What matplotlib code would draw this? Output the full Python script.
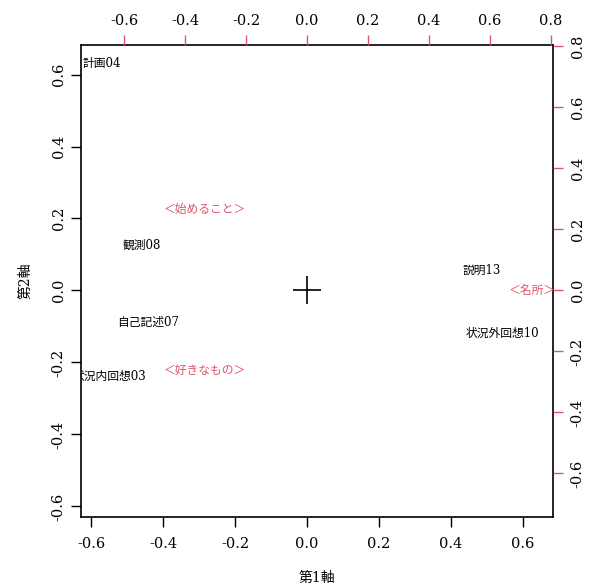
import matplotlib.pyplot as plt

plt.rcParams["font.family"] = ["DejaVu Serif", "Noto Sans CJK JP"]

# row scores (first set, black labels, bottom/left axes)
row_labels = ["計画04", "観測08", "自己記述07", "状況内回想03", "説明13", "状況外回想10"]
row_x = [-0.570, -0.458, -0.442, -0.550, 0.486, 0.542]
row_y = [0.631, 0.125, -0.088, -0.240, 0.057, -0.118]

# column scores (second set, red labels, top/right axes)
col_labels = ["＜始めること＞", "＜好きなもの＞", "＜名所＞"]
col_x = [-0.334, -0.334, 0.738]
col_y = [0.266, -0.262, 0.0]

ticks_main = [-0.6, -0.4, -0.2, 0.0, 0.2, 0.4, 0.6]
ticks_second = [-0.6, -0.4, -0.2, 0.0, 0.2, 0.4, 0.6, 0.8]

LIM = (-0.628, 0.682)
RATIO = 1.18
RED = "#DF536B"

fig = plt.figure(figsize=(5.92, 5.86), dpi=100)
pos = [0.1368, 0.1186, 0.7965, 0.8046]
ax = fig.add_axes(pos)
ax.set_xlim(*LIM)
ax.set_ylim(*LIM)
ax.set_xticks(ticks_main)
ax.set_yticks(ticks_main)
ax.set_xticklabels([f"{t:.1f}" for t in ticks_main])
ax.set_yticklabels([f"{t:.1f}" for t in ticks_main], rotation=90, va="center")
ax.tick_params(axis="x", direction="out", length=7, width=1, labelsize=10.5, pad=8)
ax.tick_params(axis="y", direction="out", length=7, width=1, labelsize=10.5, pad=4)
for s in ax.spines.values():
    s.set_linewidth(1.2)

for lab, x, y in zip(row_labels, row_x, row_y):
    ax.text(x, y, lab, ha="center", va="center", fontsize=8.5, clip_on=True)

ax.plot([0], [0], marker="+", markersize=20, markeredgewidth=1.2, color="black")

ax.set_xlabel("第1軸", fontsize=10, labelpad=14)
ax.set_ylabel("第2軸", fontsize=10, labelpad=14)

ax2 = fig.add_axes(pos, frameon=False)
ax2.set_xlim(LIM[0] * RATIO, LIM[1] * RATIO)
ax2.set_ylim(LIM[0] * RATIO, LIM[1] * RATIO)
ax2.xaxis.tick_top()
ax2.yaxis.tick_right()
ax2.set_xticks(ticks_second)
ax2.set_yticks(ticks_second)
ax2.set_xticklabels([f"{t:.1f}" for t in ticks_second])
ax2.set_yticklabels([f"{t:.1f}" for t in ticks_second], rotation=90, va="center")
ax2.tick_params(axis="x", direction="out", length=7, width=1, color=RED, labelsize=10.5, pad=5)
ax2.tick_params(axis="y", direction="out", length=7, width=1, color=RED, labelsize=10.5, pad=6)

for lab, x, y in zip(col_labels, col_x, col_y):
    ax2.text(x, y, lab, ha="center", va="center", fontsize=8.5, color=RED, clip_on=True)

fig.savefig("out.png", dpi=100)
